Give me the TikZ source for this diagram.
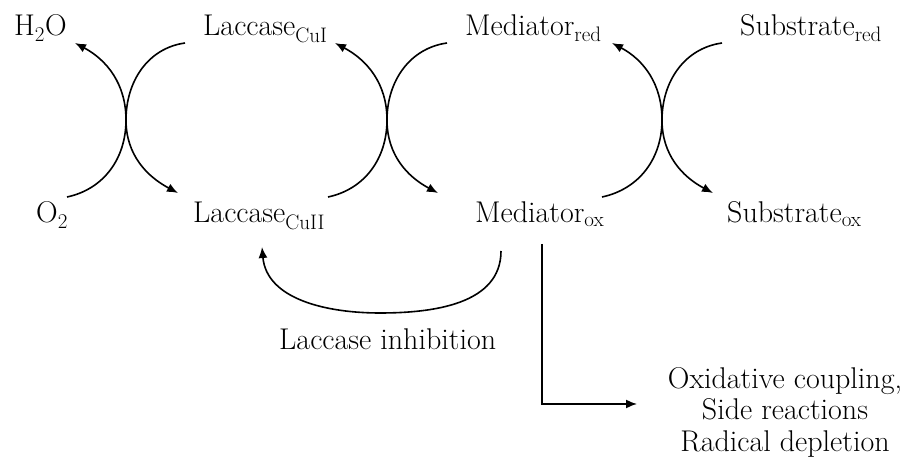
\documentclass[tikz,border=0pt]{standalone}
\usetikzlibrary{arrows.meta}
\begin{document}
\begin{tikzpicture}[x=1pt,y=1pt,
  lbl/.style={inner sep=0pt,anchor=base west,font=\fontsize{30}{36}\selectfont},
  arr/.style={line width=1.6pt,-{Latex[length=11pt,width=9pt]}}]
\useasboundingbox (0,0) rectangle (910,457);
% species
\node[lbl] (H2O) at (14,421) {H\textsubscript{2}O};
\node[lbl] (LacI) at (203,421) {Laccase\textsubscript{CuI}};
\node[lbl] (MedR) at (465,421) {Mediator\textsubscript{red}};
\node[lbl] (SubR) at (740,421) {Substrate\textsubscript{red}};
\node[lbl] (O2) at (36,234) {O\textsubscript{2}};
\node[lbl] (LacII) at (193,234) {Laccase\textsubscript{CuII}};
\node[lbl] (MedO) at (475,234) {Mediator\textsubscript{ox}};
\node[lbl] (SubO) at (727,234) {Substrate\textsubscript{ox}};
\node[lbl] (Inhib) at (279,107) {Laccase inhibition};
\node[inner sep=0pt,anchor=north,align=center,font=\fontsize{30}{31.5}\selectfont] (Side) at (785,90)
  {Oxidative coupling,\\ Side reactions\\ Radical depletion};
% crossing points and ends
\coordinate (c1) at (126,337);
\coordinate (c2) at (387,337);
\coordinate (c3) at (662,337);
\coordinate (a1s) at (67,260);  \coordinate (a1e) at (75,414);
\coordinate (b1s) at (185,414); \coordinate (b1e) at (178,264);
\coordinate (a2s) at (328,260); \coordinate (a2e) at (335,414);
\coordinate (b2s) at (447,414); \coordinate (b2e) at (438,264);
\coordinate (a3s) at (602,260); \coordinate (a3e) at (612,414);
\coordinate (b3s) at (722,414); \coordinate (b3e) at (713,264);
% cycle arrows
\draw[arr] (a1s) to[out=12,in=-90] (c1) to[out=90,in=-28] (a1e);
\draw[arr] (b1s) to[out=188,in=90] (c1) to[out=-90,in=152] (b1e);
\draw[arr] (a2s) to[out=12,in=-90] (c2) to[out=90,in=-28] (a2e);
\draw[arr] (b2s) to[out=188,in=90] (c2) to[out=-90,in=152] (b2e);
\draw[arr] (a3s) to[out=12,in=-90] (c3) to[out=90,in=-28] (a3e);
\draw[arr] (b3s) to[out=188,in=90] (c3) to[out=-90,in=152] (b3e);
% inhibition
\coordinate (i1) at (501,206);
\coordinate (i2) at (380,144);
\coordinate (i3) at (262,210);
\draw[arr] (i1) to[out=-90,in=0] (i2) to[out=180,in=-85] (i3);
% side reactions
\coordinate (s0) at (542,213);
\coordinate (s1) at (637,53);
\draw[arr] (s0) |- (s1);
\end{tikzpicture}
\end{document}
